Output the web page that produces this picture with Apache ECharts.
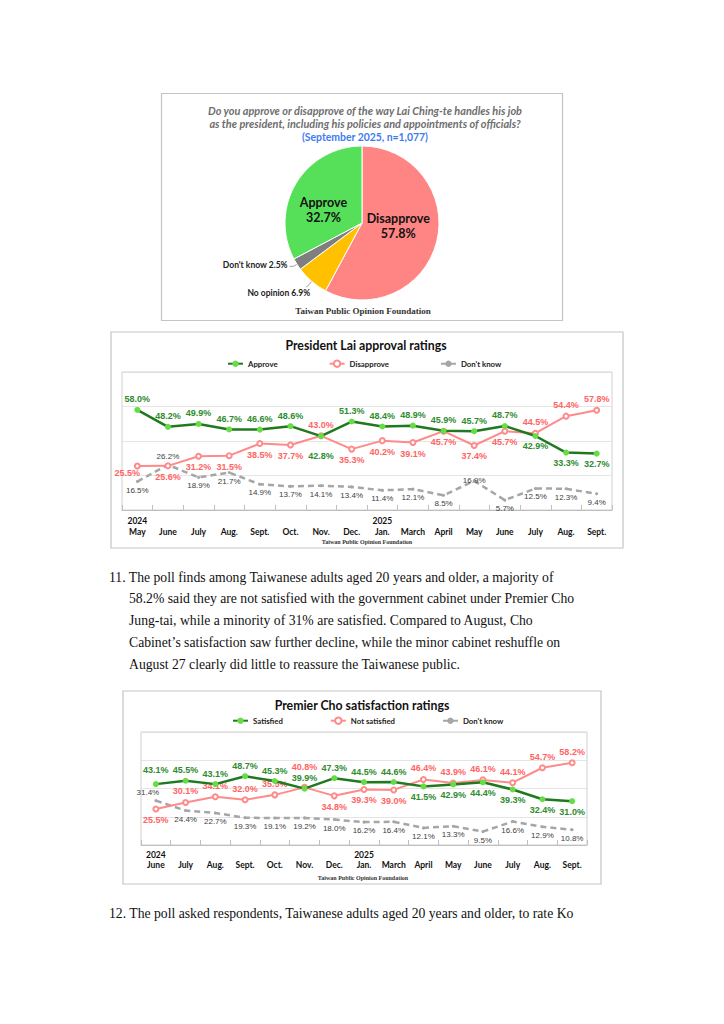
<!DOCTYPE html>
<html><head><meta charset="utf-8">
<script src="https://cdn.jsdelivr.net/npm/echarts@6/dist/echarts.min.js"></script>
<style>html,body{margin:0;padding:0;background:#fff;}#c{width:724px;height:1024px;}</style>
</head><body><div id="c"></div>
<script>
// ---------- data ----------
const pieNames = ['Disapprove', 'No opinion', "Don't know", 'Approve'];
const pieValues = [57.8, 6.9, 2.5, 32.7];

const laiMonths = ['May','June','July','Aug.','Sept.','Oct.','Nov.','Dec.','Jan.','March','April','May','June','July','Aug.','Sept.'];
const laiYears  = ['2024','','','','','','','','2025','','','','','','',''];
const laiApprove    = [58.0,48.2,49.9,46.7,46.6,48.6,42.8,51.3,48.4,48.9,45.9,45.7,48.7,42.9,33.3,32.7];
const laiDisapprove = [25.5,25.6,31.2,31.5,38.5,37.7,43.0,35.3,40.2,39.1,45.7,37.4,45.7,44.5,54.4,57.8];
const laiDontKnow   = [16.5,26.2,18.9,21.7,14.9,13.7,14.1,13.4,11.4,12.1,8.5,16.9,5.7,12.5,12.3,9.4];

const choMonths = ['June','July','Aug.','Sept.','Oct.','Nov.','Dec.','Jan.','March','April','May','June','July','Aug.','Sept.'];
const choYears  = ['2024','','','','','','','2025','','','','','','',''];
const choSatisfied    = [43.1,45.5,43.1,48.7,45.3,39.9,47.3,44.5,44.6,41.5,42.9,44.4,39.3,32.4,31.0];
const choNotSatisfied = [25.5,30.1,34.1,32.0,35.5,40.8,34.8,39.3,39.0,46.4,43.9,46.1,44.1,54.7,58.2];
const choDontKnow     = [31.4,24.4,22.7,19.3,19.1,19.2,18.0,16.2,16.4,12.1,13.3,9.5,16.6,12.9,10.8];

const pieTitleLines = [
  'Do you approve or disapprove of the way Lai Ching-te handles his job',
  'as the president, including his policies and appointments of officials?'
];
const pieSubtitle = '(September 2025, n=1,077)';
const sourceText = 'Taiwan Public Opinion Foundation';
const laiTitle = 'President Lai approval ratings';
const choTitle = 'Premier Cho satisfaction ratings';
const para11 = [
  '11. The poll finds among Taiwanese adults aged 20 years and older, a majority of',
  '58.2% said they are not satisfied with the government cabinet under Premier Cho',
  'Jung-tai, while a minority of 31% are satisfied. Compared to August, Cho',
  'Cabinet\u2019s satisfaction saw further decline, while the minor cabinet reshuffle on',
  'August 27 clearly did little to reassure the Taiwanese public.'
];
const para12 = ['12. The poll asked respondents, Taiwanese adults aged 20 years and older, to rate Ko'];

// ---------- label layout (styles) ----------
const T = 'top', B = 'bottom', I = 'inside';
const laiApprovePos = [T,T,T,T,T,T,B,T,T,T,T,T,T,B,B,B];
const laiDisPos     = [B,B,B,B,B,B,T,B,B,B,B,B,B,T,T,T];
const laiDkPos      = [B,T,B,B,B,B,B,B,B,B,B,I,B,B,B,B];
const choSatPos     = [T,T,T,T,T,T,T,T,T,B,B,B,B,B,B];
const choNotPos     = [B,T,T,T,T,T,B,B,B,T,T,T,T,T,T];
const choDkPos      = [T,B,B,B,B,B,B,B,B,B,B,B,B,B,B];

const SANS = 'Lato, "Open Sans", sans-serif';
const ARIAL = '"Liberation Sans", Arial, sans-serif';
const SERIF = '"Liberation Serif", "Times New Roman", serif';

const GREEN_LINE = '#1f7a1f', GREEN_DOT = '#66dd44', GREEN_TXT = '#2e8b2e';
const RED_LINE = '#ff8a8a', RED_TXT = '#ff6464';
const GRAY_LINE = '#a6a6a6', GRAY_TXT = '#404040';

function fmt(p) { return p.value.toFixed(1) + '%'; }
function buildData(vals, pos, extra) {
  return vals.map((v, i) => {
    const lbl = { position: pos[i] };
    if (extra && extra[i]) Object.assign(lbl, extra[i]);
    return { value: v, label: lbl };
  });
}

function lineSeries(name, idx, vals, pos, kind, extra) {
  const s = {
    name: name, type: 'line', xAxisIndex: idx, yAxisIndex: idx,
    data: buildData(vals, pos, extra),
    label: { show: true, formatter: fmt, distance: 3 },
    emphasis: { disabled: true },
    animation: false
  };
  if (kind === 'g') {
    s.z = 4;
    s.lineStyle = { color: GREEN_LINE, width: 2.5 };
    s.symbol = 'circle'; s.symbolSize = 6;
    s.itemStyle = { color: GREEN_DOT };
    Object.assign(s.label, { color: GREEN_TXT, fontFamily: ARIAL, fontWeight: 'bold', fontSize: 9 });
  } else if (kind === 'r') {
    s.z = 3;
    s.lineStyle = { color: RED_LINE, width: 2 };
    s.symbol = 'emptyCircle'; s.symbolSize = 5;
    s.itemStyle = { color: RED_LINE, borderWidth: 1 };
    Object.assign(s.label, { color: RED_TXT, fontFamily: ARIAL, fontWeight: 'bold', fontSize: 9 });
  } else {
    s.z = 2;
    s.lineStyle = { color: GRAY_LINE, width: 2.5, type: [6, 4] };
    s.symbol = 'circle'; s.symbolSize = 3;
    s.itemStyle = { color: GRAY_LINE };
    Object.assign(s.label, { color: GRAY_TXT, fontFamily: ARIAL, fontWeight: 'normal', fontSize: 8 });
  }
  return s;
}

function xAxisFor(idx, months, years) {
  return {
    type: 'category', gridIndex: idx, data: months, boundaryGap: true,
    axisLine: { show: true, lineStyle: { color: '#bfbfbf', width: 1 } },
    axisTick: { show: true, inside: true, length: 5, lineStyle: { color: '#bfbfbf' } },
    axisLabel: {
      interval: 0, margin: 5, color: '#111', fontFamily: SANS, fontWeight: 'bold', fontSize: 8.5,
      lineHeight: idx === 0 ? 11 : 10,
      formatter: (v, i) => (years[i] ? years[i] : ' ') + '\n' + v
    },
    splitLine: { show: false }
  };
}
function yAxisFor(idx) {
  return {
    type: 'value', gridIndex: idx, min: 0, max: 80, interval: 20,
    axisLabel: { show: false }, axisLine: { show: false }, axisTick: { show: false },
    splitLine: { show: true, lineStyle: { color: '#dedede', width: 0.8 } }
  };
}

function txt(x, y, text, font, fill, align) {
  return { type: 'text', x: x, y: y, silent: true,
    style: { text: text, font: font, fill: fill, align: align || 'center', verticalAlign: 'middle' } };
}
function box(x, y, w, h) {
  return { type: 'rect', silent: true, shape: { x: x, y: y, width: w, height: h },
    style: { fill: 'none', stroke: '#c4c4c4', lineWidth: 1.2 } };
}

const graphics = [
  box(161.5, 93.5, 401, 227),
  box(111, 332, 512, 216),
  box(123, 691, 478, 193),
  txt(365, 110, pieTitleLines[0], 'italic bold 10.9px ' + SANS, '#6e6e6e'),
  txt(365, 123.5, pieTitleLines[1], 'italic bold 10.9px ' + SANS, '#6e6e6e'),
  txt(365, 137, pieSubtitle, 'bold 10.4px ' + SANS, '#3d7cf2'),
  txt(363, 311, sourceText, 'bold 9px ' + SERIF, '#333'),
  txt(366, 345, laiTitle, 'bold 12.3px ' + SANS, '#111'),
  txt(367, 542, sourceText, 'bold 6px ' + SERIF, '#333'),
  txt(362, 705, choTitle, 'bold 12.3px ' + SANS, '#111'),
  txt(363, 878, sourceText, 'bold 6px ' + SERIF, '#333')
];
const paraFont = '13.7px ' + SERIF;
para11.forEach((line, i) => {
  graphics.push(txt(i === 0 ? 109 : 129, 577 + i * 21.8, line, paraFont, '#111', 'left'));
});
para12.forEach((line, i) => {
  graphics.push(txt(109, 913 + i * 21.8, line, paraFont, '#111', 'left'));
});

const legendCommon = {
  itemWidth: 15, itemHeight: 8, padding: 0,
  textStyle: { fontFamily: SANS, fontWeight: 'bold', fontSize: 7.8, color: '#222' },
  selectedMode: false
};

const option = {
  animation: false,
  backgroundColor: '#fff',
  graphic: graphics,
  legend: [
    Object.assign({ left: 227, top: 359.5, itemGap: 51, data: ['Approve', 'Disapprove', "Don't know"] }, legendCommon),
    Object.assign({ left: 232, top: 716.5, itemGap: 47, data: ['Satisfied', 'Not satisfied', "Don't know"] }, legendCommon)
  ],
  grid: [
    { left: 122, top: 372, width: 490, height: 138, show: true, borderColor: '#d0d0d0', borderWidth: 1, backgroundColor: 'transparent', outerBoundsMode: 'none' },
    { left: 141, top: 732, width: 446, height: 113, show: true, borderColor: '#d0d0d0', borderWidth: 1, backgroundColor: 'transparent', outerBoundsMode: 'none' }
  ],
  xAxis: [xAxisFor(0, laiMonths, laiYears), xAxisFor(1, choMonths, choYears)],
  yAxis: [yAxisFor(0), yAxisFor(1)],
  series: [
    {
      type: 'pie', center: [362, 223], radius: 77, startAngle: 90, clockwise: true,
      animation: false, emphasis: { disabled: true },
      itemStyle: { borderColor: '#fff', borderWidth: 1 },
      data: pieNames.map((n, i) => {
        const d = { name: n, value: pieValues[i] };
        const colors = ['#ff8585', '#ffc000', '#7f7f7f', '#56e05a'];
        d.itemStyle = { color: colors[i] };
        if (n === 'Disapprove' || n === 'Approve') {
          d.label = { position: 'inner', fontFamily: SANS, fontWeight: 'bold', fontSize: 12.5, lineHeight: 15, color: '#111',
                      formatter: p => p.name + '\n' + p.value.toFixed(1) + '%',
                      offset: n === 'Approve' ? [-3, 8] : [-4, -7] };
        } else {
          d.label = { position: 'outside', fontFamily: SANS, fontWeight: 'bold', fontSize: 8.5, color: '#222',
                      formatter: p => p.name + ' ' + p.value.toFixed(1) + '%' };
          d.labelLine = { show: true, length: n === "Don't know" ? 4 : 7, length2: n === "Don't know" ? 4 : 1,
                          lineStyle: { color: '#888', width: 0.8 } };
        }
        return d;
      }),
      label: { show: true },
      labelLine: { show: false },
      labelLayout: function (params) {
        if (params.dataIndex === 1) return { dx: 9, dy: 6 };
        if (params.dataIndex === 2) return { dx: 3, dy: -1 };
        return {};
      }
    },
    lineSeries("Don't know", 0, laiDontKnow, laiDkPos, 'k'),
    lineSeries('Disapprove', 0, laiDisapprove, laiDisPos, 'r', { 0: { offset: [-10, -4] } }),
    lineSeries('Approve', 0, laiApprove, laiApprovePos, 'g', { 6: { distance: 12 } }),
    lineSeries("Don't know", 1, choDontKnow, choDkPos, 'k', { 0: { offset: [-8, 0] } }),
    lineSeries('Not satisfied', 1, choNotSatisfied, choNotPos, 'r', { 5: { distance: 12 } }),
    lineSeries('Satisfied', 1, choSatisfied, choSatPos, 'g', { 0: { distance: 7 } })
  ]
};

const chart = echarts.init(document.getElementById('c'), null, { renderer: 'svg', width: 724, height: 1024 });
chart.setOption(option);
</script>
</body></html>
